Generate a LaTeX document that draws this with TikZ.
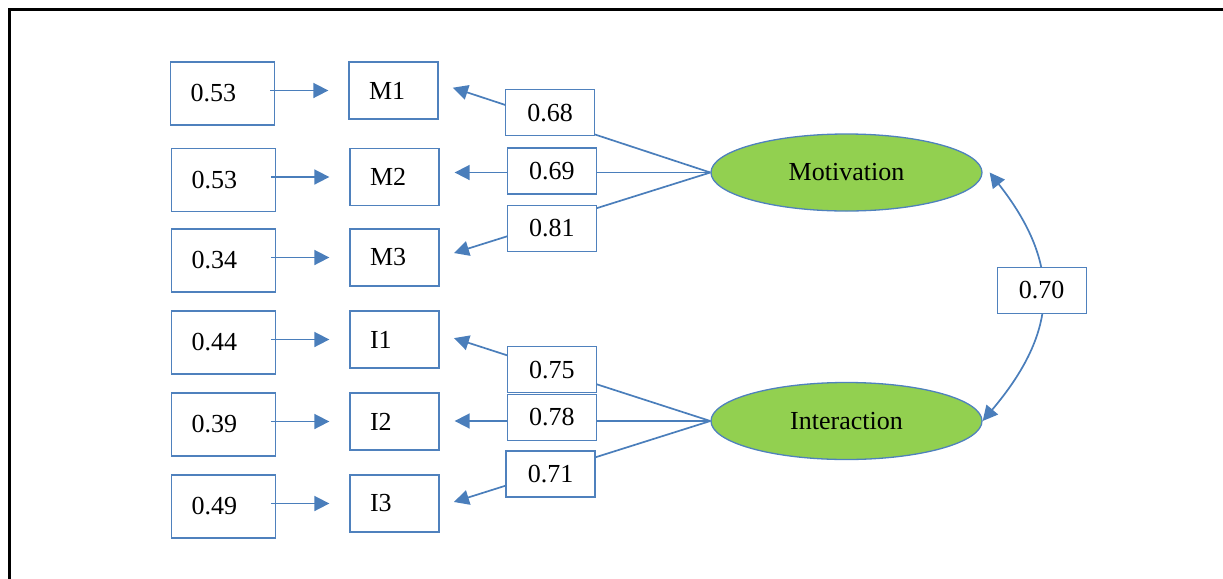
\documentclass[tikz,border=0pt]{standalone}
\usepackage{fontspec}
\setmainfont{Liberation Serif}
\usetikzlibrary{shapes.geometric,arrows.meta,positioning}
\definecolor{boxline}{RGB}{ 79,129,189}
\definecolor{arrline}{RGB}{ 74,126,187}
\definecolor{latfill}{RGB}{146,208, 80}
\tikzset{
  txt/.style   ={font=\fontsize{13pt}{15pt}\selectfont},
  errbox/.style={rectangle,draw=boxline,line width=0.65pt,txt,
                 minimum height=31.5pt,text width=32pt,
                 inner xsep=10pt,align=left},
  indbox/.style={rectangle,draw=boxline,line width=0.65pt,txt,
                 minimum height=28.5pt,text width=24.5pt,
                 inner xsep=10pt,align=left},
  ldg/.style   ={rectangle,draw=boxline,line width=0.65pt,fill=white,txt,
                 minimum width=44.5pt,minimum height=23pt,inner sep=0pt},
  lat/.style   ={ellipse,draw=boxline,line width=0.65pt,fill=latfill,txt,
                 minimum width=135.5pt,minimum height=38.5pt},
  sig/.style   ={-{Triangle[length=7.5pt,width=7.5pt]},
                 draw=arrline,line width=0.85pt},
  dsig/.style  ={{Triangle[length=7.5pt,width=7.5pt]}-{Triangle[length=7.5pt,width=7.5pt]},
                 draw=arrline,line width=0.85pt},
  frm/.style   ={draw=black,line width=1.5pt},
}

\begin{document}
\begin{tikzpicture}[x=0.5pt,y=-0.5pt,node distance=36.5pt]
  \path[use as bounding box,clip] (0,0) rectangle (1223,579);
  \draw[frm] (9,9) rectangle (1240,600);
  % indicators
  \node[indbox] (m1) at (393.5,90.5) {M1};
  \node[indbox] (m2) at (394.5,177)  {M2};
  \node[indbox] (m3) at (394.5,257.5){M3};
  \node[indbox] (i1) at (394.5,339.5){I1};
  \node[indbox] (i2) at (394.5,421.5){I2};
  \node[indbox] (i3) at (394.5,503.5){I3};
  % error terms
  \node[errbox,left=of m1,yshift=-1.5pt] (e1) {0.53};
  \node[errbox,left=of m2,yshift=-1.5pt] (e2) {0.53};
  \node[errbox,left=of m3,yshift=-1.5pt] (e3) {0.34};
  \node[errbox,left=of i1,yshift=-1.5pt] (e4) {0.44};
  \node[errbox,left=of i2,yshift=-1.5pt] (e5) {0.39};
  \node[errbox,left=of i3,yshift=-1.5pt] (e6) {0.49};
  % latent factors
  \node[lat] (mot) at (846.5,172.5) {Motivation};
  \node[lat] (int) at (846.5,421)   {Interaction};
  % errors -> indicators
  \draw[sig,shorten <=-2.5pt,shorten >=10pt] (e1.east |- m1) -- (m1.west);
  \draw[sig,shorten <=-2.5pt,shorten >=10pt] (e2.east |- m2) -- (m2.west);
  \draw[sig,shorten <=-2.5pt,shorten >=10pt] (e3.east |- m3) -- (m3.west);
  \draw[sig,shorten <=-2.5pt,shorten >=10pt] (e4.east |- i1) -- (i1.west);
  \draw[sig,shorten <=-2.5pt,shorten >=10pt] (e5.east |- i2) -- (i2.west);
  \draw[sig,shorten <=-2.5pt,shorten >=10pt] (e6.east |- i3) -- (i3.west);
  % loadings: Motivation
  \draw[sig,shorten >=7.5pt] (mot.west) --
        node[ldg,pos=0.59,yshift=3.5pt]{0.68} ([yshift=3.75pt]m1.east);
  \draw[sig,shorten >=7.5pt] (mot.west) --
        node[ldg,pos=0.585,yshift=0.75pt]{0.69} (m2.east |- mot.west);
  \draw[sig,shorten >=7.5pt] (mot.west) --
        node[ldg,pos=0.585,yshift=-3pt]{0.81} (m3.east);
  % loadings: Interaction
  \draw[sig,shorten >=7.5pt] (int.west) --
        node[ldg,pos=0.585]{0.75} ([yshift=3pt]i1.east);
  \draw[sig,shorten >=7.5pt] (int.west) --
        node[ldg,pos=0.585,yshift=1.75pt]{0.78} (i2.east |- int.west);
  \draw[sig,shorten >=7.5pt] (int.west) --
        node[ldg,pos=0.59,yshift=-1.25pt]{0.71} ([yshift=-1.5pt]i3.east);
  % covariance
  \draw[dsig] ([xshift=3.5pt]mot.east) .. controls +(72,92) and +(76,-90) ..
        node[ldg,pos=0.47]{0.70} (int.east);
\end{tikzpicture}
\end{document}
